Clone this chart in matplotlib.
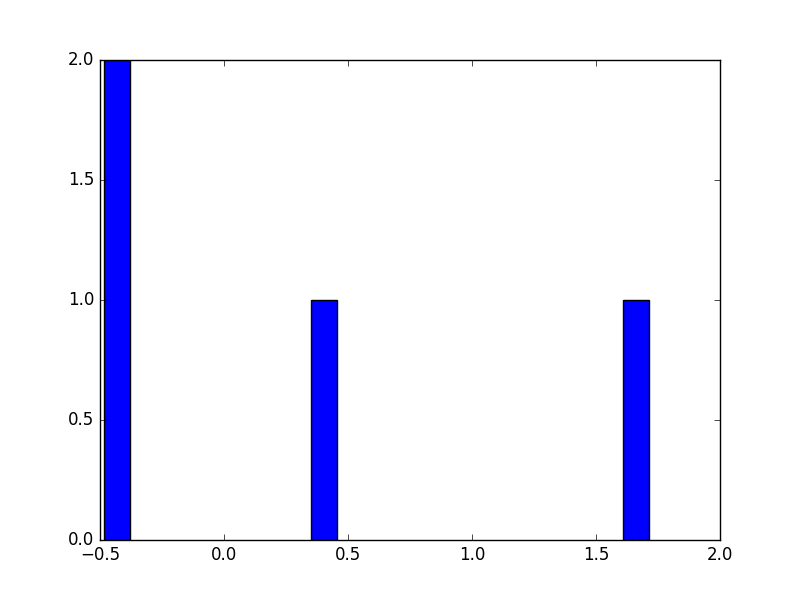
import matplotlib
matplotlib.use('Agg')
from matplotlib import pyplot as plt

# histogram bins (left edge, count)
bin_left = [-0.484, 0.352, 1.607]
counts = [2, 1, 1]
bin_width = 0.105

xticks = [-0.5, 0.0, 0.5, 1.0, 1.5, 2.0]
yticks = [0.0, 0.5, 1.0, 1.5, 2.0]

plt.style.use('classic')
fig = plt.figure(figsize=(8, 6), dpi=100)
ax = fig.add_subplot(111)

ax.bar(bin_left, counts, width=bin_width, align='edge',
       color='b', edgecolor='k', linewidth=1)

ax.set_xlim(-0.5, 2.0)
ax.set_ylim(0, 2.0)
ax.set_xticks(xticks)
ax.set_yticks(yticks)

fig.savefig('out.png', dpi=100, facecolor='white')
